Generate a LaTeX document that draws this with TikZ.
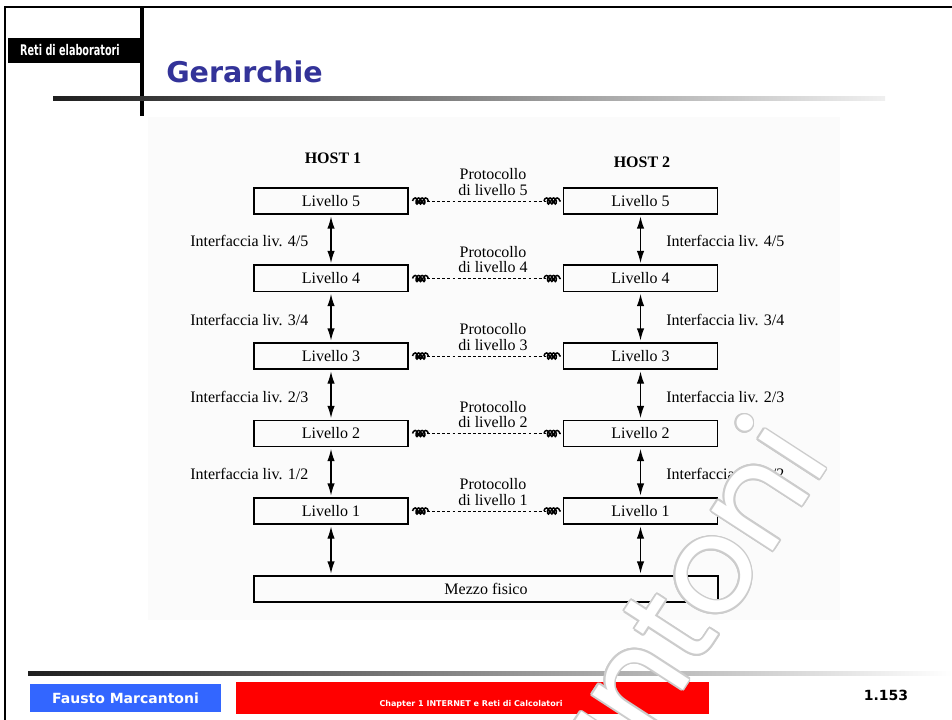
\documentclass[tikz,border=0pt]{standalone}
\usepackage{fontspec}
\setmainfont{Liberation Serif}
\newfontfamily\sansbold{DejaVu Sans}
\newfontfamily\wmfont{Poppins}
\usepackage{graphicx}
\usepackage{contour}
\contourlength{1.3pt}
\usetikzlibrary{arrows.meta,calc,decorations.pathmorphing}

\definecolor{titleblue}{RGB}{51,51,153}
\definecolor{footblue}{RGB}{51,102,255}
\definecolor{footred}{RGB}{255,0,0}

\tikzset{
  livello/.style={draw, line width=0.8pt, minimum width=115.5pt, minimum height=19.5pt,
    inner sep=0pt, font=\fontsize{12}{14}\selectfont},
  lbl/.style={inner sep=0pt, font=\fontsize{12}{11.5}\selectfont},
  iface/.style={{Latex[length=9pt,width=5.5pt]}-{Latex[length=9pt,width=5.5pt]},
    line width=0.8pt, shorten <=1.5pt, shorten >=1.5pt},
  proto/.style={dashed, dash pattern=on 2.2pt off 1.6pt, line width=0.6pt},
  rope/.style={decorate, decoration={coil, aspect=0.6, amplitude=2.3pt, segment length=2.6pt},
    line width=1.1pt},
}

\begin{document}
\begin{tikzpicture}[x=0.75pt, y=-0.75pt]
  % coordinate in pixel, y verso il basso
  \useasboundingbox (0,0) rectangle (952,720);
  \fill[white] (0,0) rectangle (952,720);
  \fill[black!1.5] (148,117) rectangle (840,620);

  % intestazione
  \draw[line width=1.6pt] (5,720) -- (5,7) -- (952,7);
  \draw[line width=2.4pt] (142,7) -- (142,116);
  \fill[black] (8,38) rectangle (140,63);
  \node[text=white, inner sep=0pt, font=\sansbold\bfseries\fontsize{11}{11}\selectfont]
    (corso) at (70,50.5) {\scalebox{0.66}[1]{Reti di elaboratori}};
  \node[anchor=base west, inner sep=0pt, text=titleblue,
    font=\sansbold\bfseries\fontsize{21.4}{24}\selectfont] (titolo) at (166,83) {Gerarchie};
  \shade[left color=black!88, right color=black!6] (53,97) rectangle (885,101);

  % host
  \node[font=\bfseries\fontsize{12}{14}\selectfont] (host1) at (333,158) {HOST 1};
  \node[font=\bfseries\fontsize{12}{14}\selectfont] (host2) at (642,162) {HOST 2};

  % livelli dei due host
  \foreach \n/\y in {5/201,4/278.5,3/356,2/433.5,1/511} {
    \node[livello] (sx\n) at (331,\y) {Livello \n};
    \node[livello] (dx\n) at (640.5,\y) {Livello \n};
  }
  \draw[line width=1.6pt] (sx4.north west) -- (sx4.north east);
  \draw[line width=1.6pt] (dx4.north west) -- (dx4.north east);
  \node[livello, minimum width=348pt] (mf) at (486,589) {Mezzo fisico};

  % interfacce tra livelli adiacenti
  \foreach \a/\b/\y in {5/4/241,4/3/320,3/2/397,2/1/474} {
    \draw[iface] (sx\a) -- (sx\b);
    \draw[iface] (dx\a) -- (dx\b);
    \node[lbl, anchor=west] (isx\b) at (190,\y) {Interfaccia liv. \b/\a};
    \node[lbl, anchor=west] (idx\b) at (666,\y) {Interfaccia liv. \b/\a};
  }
  \draw[iface] (sx1) -- (sx1 |- mf.north);
  \draw[iface] (dx1) -- (dx1 |- mf.north);

  % protocolli tra livelli pari
  \foreach \n/\y in {5/201,4/278.5,3/356,2/433.5,1/511} {
    \draw[proto, shorten <=14pt, shorten >=13pt] (sx\n) -- (dx\n);
    \draw[rope] ($(sx\n.east)+(4,0)$) -- ($(sx\n.east)+(20,0)$);
    \draw[rope] ($(dx\n.west)+(-19,0)$) -- ($(dx\n.west)+(-2,0)$);
    \node[lbl, align=center] (p\n) at (493,\y-19) {Protocollo\\di livello \n};
  }

  % pie' di pagina
  \shade[left color=black!88, right color=white] (28,671) rectangle (952,675);
  \fill[footblue] (30,684) rectangle (221,712);
  \node[text=white, inner sep=0pt, font=\sansbold\bfseries\fontsize{10.5}{12}\selectfont]
    (autore) at (125.5,698) {Fausto Marcantoni};
  \fill[footred] (236,682) rectangle (709,714);
  \node[anchor=base, text=white, inner sep=0pt, font=\sansbold\bfseries\fontsize{6}{7}\selectfont]
    (capitolo) at (471,706) {Chapter 1 INTERNET e Reti di Calcolatori};
  \node[inner sep=0pt, font=\sansbold\bfseries\fontsize{10.5}{12}\selectfont]
    (pagina) at (886,695) {1.153};

  % filigrana
  \node[rotate=57, anchor=base east, inner sep=0pt, text=white,
    font=\wmfont\fontsize{100}{100}\selectfont] (firma) at (832,460) {\contour{black!20}{Marcantoni}};
\end{tikzpicture}
\end{document}
